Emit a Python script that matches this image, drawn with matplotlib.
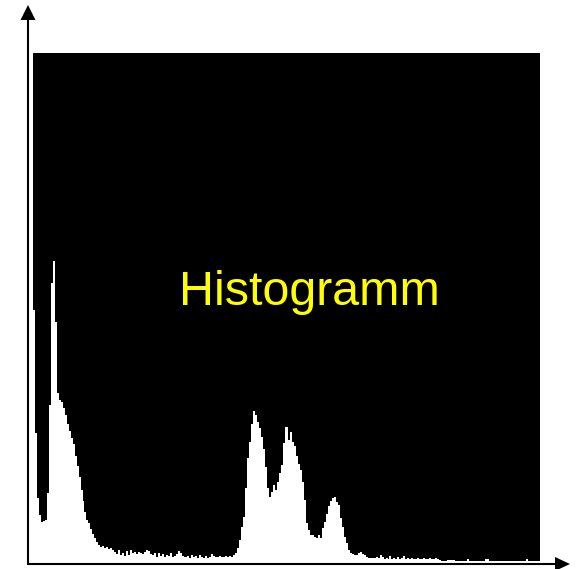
import matplotlib
matplotlib.use("Agg")
import matplotlib.pyplot as plt
import numpy as np

# Histogram counts (256 grey levels)
counts = [
    252, 129, 64, 47, 40, 41, 42, 69, 157, 279, 301, 240, 169, 162, 160, 154,
    147, 138, 131, 124, 118, 106, 96, 85, 72, 61, 50, 42, 39, 33, 28, 24,
    20, 17, 15, 16, 14, 15, 13, 14, 12, 10, 8, 12, 7, 9, 6, 11,
    7, 12, 9, 10, 8, 10, 9, 8, 10, 12, 11, 8, 7, 9, 5, 9,
    6, 8, 5, 7, 6, 9, 5, 6, 8, 11, 9, 6, 5, 5, 6, 4,
    7, 5, 6, 4, 7, 5, 4, 6, 4, 5, 8, 6, 5, 5, 6, 5,
    5, 6, 5, 6, 5, 7, 9, 14, 22, 35, 45, 74, 104, 120, 138, 151,
    147, 140, 134, 125, 113, 95, 74, 65, 70, 77, 72, 80, 89, 97, 119, 135,
    135, 122, 130, 120, 116, 106, 98, 92, 80, 62, 39, 32, 27, 27, 25, 24,
    27, 24, 34, 40, 48, 56, 61, 64, 65, 60, 57, 44, 35, 25, 19, 12,
    9, 8, 7, 7, 9, 10, 8, 7, 5, 4, 4, 4, 4, 5, 4, 7,
    5, 3, 4, 3, 6, 3, 4, 3, 5, 3, 4, 6, 3, 4, 3, 4,
    3, 3, 4, 3, 3, 4, 3, 3, 4, 3, 3, 4, 3, 2, 1, 1,
    1, 2, 2, 2, 2, 1, 1, 1, 1, 1, 1, 3, 1, 1, 1, 1,
    1, 1, 1, 1, 3, 3, 1, 1, 1, 1, 1, 1, 1, 1, 1, 1,
    1, 1, 1, 1, 1, 1, 1, 1, 1, 3, 1, 1, 1, 1, 1, 1,
]
levels = np.arange(len(counts))
title_text = "Histogramm"

W, H = 577, 569
fig = plt.figure(figsize=(W / 100, H / 100), dpi=100)
fig.patch.set_facecolor("white")

# main histogram axes (black background, white bars)
left, right, top, bottom = 33, 540, 53, 562
ax = fig.add_axes([left / W, 1 - bottom / H, (right - left) / W, (bottom - top) / H])
ax.set_facecolor("black")
ax.bar(levels, counts, width=1.0, align="edge", color="white",
       edgecolor="none", linewidth=0, antialiased=False)
ax.set_xlim(0, len(counts))
ax.set_ylim(0, bottom - top)
ax.set_xticks([])
ax.set_yticks([])
for s in ax.spines.values():
    s.set_visible(False)

# overlay axes in pixel coordinates for arrows and text
ov = fig.add_axes([0, 0, 1, 1])
ov.set_xlim(0, W)
ov.set_ylim(H, 0)
ov.axis("off")
ov.patch.set_alpha(0)

lw = 1.5
# y-axis arrow
ov.plot([28, 28], [564, 19], color="black", lw=lw, solid_capstyle="butt")
ov.fill([28, 20.5, 35.5], [5, 20, 20], color="black", lw=0)
# x-axis arrow
ov.plot([27, 556], [564, 564], color="black", lw=lw, solid_capstyle="butt")
ov.fill([570, 555, 555], [564, 557, 571], color="black", lw=0)

ov.text(309, 305, title_text, color="#FFFF00", fontsize=34.8,
        family=["Liberation Sans", "DejaVu Sans"], ha="center", va="baseline")

fig.savefig("out.png", dpi=100, facecolor="white")
